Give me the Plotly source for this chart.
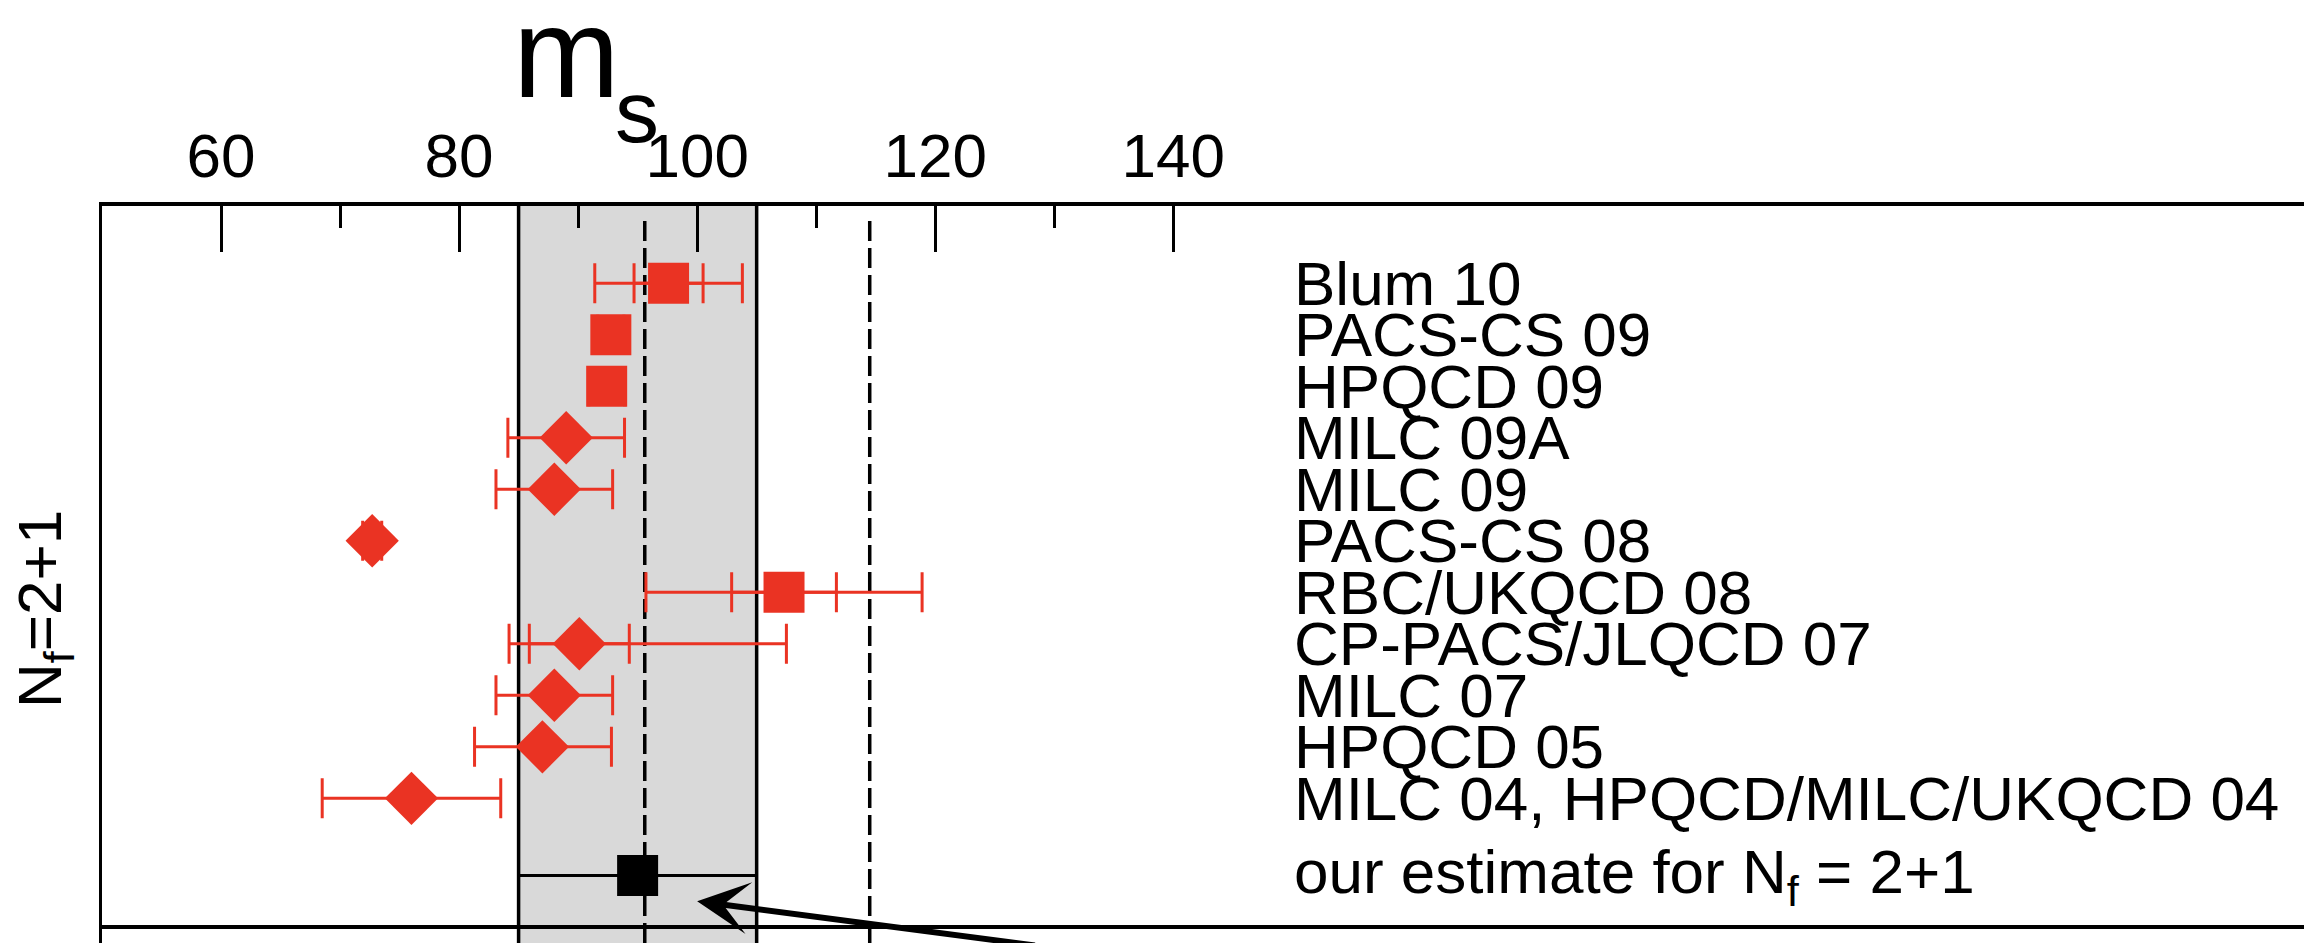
import plotly.graph_objects as go

# ---------------- data ----------------
labels = ["Blum 10", "PACS-CS 09", "HPQCD 09", "MILC 09A", "MILC 09", "PACS-CS 08",
          "RBC/UKQCD 08", "CP-PACS/JLQCD 07", "MILC 07", "HPQCD 05",
          "MILC 04, HPQCD/MILC/UKQCD 04"]
ms_values = [97.6, 92.75, 92.4, 89.0, 88.0, 72.7, 107.3, 90.1, 88.0, 87.0, 76.0]
err_total_minus = [6.2, 1.1, 1.5, 4.9, 4.9, 0.8, 11.6, 5.9, 4.9, 5.7, 7.5]
err_total_plus = [6.2, 1.1, 1.5, 4.9, 4.9, 0.8, 11.6, 17.4, 4.9, 5.8, 7.5]
err_stat = [2.9, 0, 0, 0, 0, 0, 4.4, 4.2, 0, 0, 0]
symbols = ["square", "square", "square", "diamond", "diamond", "diamond",
           "square", "diamond", "diamond", "diamond", "diamond"]

estimate_label = "our estimate for N<sub>f</sub> = 2+1"
estimate_value = 95.0
estimate_error = 10.0
ref_lines = [95.6, 114.5]

x_ticks = [60, 80, 100, 120, 140]
x_minor = [70, 90, 110, 130]

# row positions: first label at top
n = len(labels)
rows = [n - i for i in range(n)]
est_row = -0.5

RED = "rgb(234,51,35)"
FONT = "Liberation Sans, Arial, Helvetica, sans-serif"

W, H = 2307, 943
L, R, T, B = 102, 3, 206, 0
PW = W - L - R
PH = H - T - B

fig = go.Figure()

# outer (total) error bars
fig.add_trace(go.Scatter(
    x=ms_values, y=rows, mode="markers",
    marker=dict(size=1, color="rgba(0,0,0,0)"),
    error_x=dict(type="data", symmetric=False, array=err_total_plus,
                 arrayminus=err_total_minus, color=RED, thickness=3, width=20),
    hoverinfo="skip", showlegend=False))

# inner (statistical) error bars
stat_idx = [i for i, e in enumerate(err_stat) if e > 0]
fig.add_trace(go.Scatter(
    x=[ms_values[i] for i in stat_idx], y=[rows[i] for i in stat_idx], mode="markers",
    marker=dict(size=1, color="rgba(0,0,0,0)"),
    error_x=dict(type="data", array=[err_stat[i] for i in stat_idx],
                 color=RED, thickness=3, width=20),
    hoverinfo="skip", showlegend=False))

# markers
fig.add_trace(go.Scatter(
    x=ms_values, y=rows, mode="markers",
    marker=dict(size=41, color=RED, symbol=symbols, line=dict(width=0)),
    text=labels, showlegend=False))

# our estimate
fig.add_trace(go.Scatter(
    x=[estimate_value], y=[est_row], mode="markers",
    marker=dict(size=41, color="black", symbol="square", line=dict(width=0)),
    error_x=dict(type="data", array=[estimate_error], color="black",
                 thickness=3, width=0),
    showlegend=False))

shapes = []
# grey band (estimate +- error)
shapes.append(dict(type="rect", xref="x", yref="paper",
                   x0=estimate_value - estimate_error, x1=estimate_value + estimate_error,
                   y0=0, y1=1, fillcolor="#d9d9d9", line=dict(width=0), layer="below"))
for xv in (estimate_value - estimate_error, estimate_value + estimate_error):
    shapes.append(dict(type="line", xref="x", yref="paper", x0=xv, x1=xv, y0=0, y1=1,
                       line=dict(color="black", width=3.5), layer="below"))
for xv in ref_lines:
    shapes.append(dict(type="line", xref="x", yref="paper", x0=xv, x1=xv, y0=0, y1=0.985,
                       line=dict(color="black", width=3.5, dash="20px,7px"), layer="below"))
# separator line below the Nf=2+1 block
shapes.append(dict(type="line", xref="paper", yref="y", x0=0, x1=1,
                   y0=est_row - 1.0, y1=est_row - 1.0,
                   line=dict(color="black", width=4)))

annotations = []
for lab, r in zip(labels, rows):
    annotations.append(dict(x=150, y=r, xref="x", yref="y", text=lab, showarrow=False,
                            xanchor="left", yanchor="middle",
                            font=dict(family=FONT, size=62, color="black")))
annotations.append(dict(x=150, y=est_row, xref="x", yref="y", text=estimate_label,
                        showarrow=False, xanchor="left", yanchor="middle",
                        font=dict(family=FONT, size=62, color="black")))


def px2paper_x(px):
    return (px - L) / PW


def px2paper_y(py):
    return (H - B - py) / PH


# title m_s
annotations.append(dict(x=px2paper_x(566), y=px2paper_y(52), xref="paper", yref="paper",
                        text="m", showarrow=False, xanchor="center", yanchor="middle",
                        font=dict(family=FONT, size=128, color="black")))
annotations.append(dict(x=px2paper_x(637), y=px2paper_y(112), xref="paper", yref="paper",
                        text="s", showarrow=False, xanchor="center", yanchor="middle",
                        font=dict(family=FONT, size=88, color="black")))
# y title
annotations.append(dict(x=px2paper_x(44), y=px2paper_y(609), xref="paper", yref="paper",
                        text="N<sub>f</sub>=2+1", showarrow=False, textangle=-90,
                        xanchor="center", yanchor="middle",
                        font=dict(family=FONT, size=62, color="black")))
# arrow pointing at the estimate (tail runs off the bottom edge)
annotations.append(dict(x=100, y=-1.0, xref="x", yref="y", text="", showarrow=True,
                        axref="x", ayref="y", ax=128.5, ay=-1.86,
                        arrowhead=3, arrowsize=1.45, arrowwidth=6,
                        arrowcolor="black", standoff=0, font=dict(size=1)))

fig.update_layout(
    width=W, height=H,
    margin=dict(l=L, r=R, t=T, b=B, pad=0, autoexpand=False),
    paper_bgcolor="white", plot_bgcolor="white",
    shapes=shapes, annotations=annotations,
    font=dict(family=FONT, color="black"),
    xaxis=dict(range=[50, 235], side="top", showline=True, linecolor="black", linewidth=4,
               ticks="inside", tickvals=x_ticks, ticktext=[str(t) for t in x_ticks],
               ticklen=46, tickwidth=3, tickcolor="black",
               minor=dict(tickvals=x_minor, ticks="inside", ticklen=22, tickwidth=3,
                          tickcolor="black", showgrid=False),
               tickfont=dict(family=FONT, size=62, color="black"),
               showgrid=False, zeroline=False, fixedrange=True, automargin=False),
    yaxis=dict(range=[-1.81, 12.5], showline=True, linecolor="black", linewidth=3,
               showticklabels=False, ticks="", showgrid=False, zeroline=False,
               fixedrange=True, automargin=False),
)

fig.write_html("out.html",
               config={"displayModeBar": False},
               post_script="document.body.style.margin='0px';"
                           "document.body.style.overflow='hidden';")
